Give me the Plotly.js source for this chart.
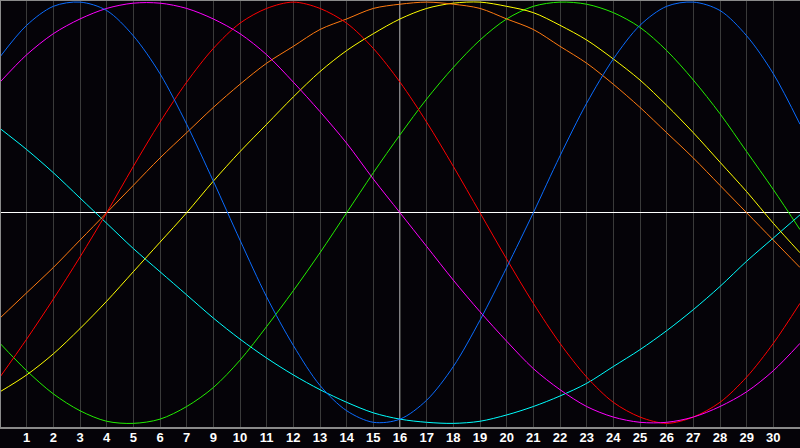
<!DOCTYPE html>
<html>
<head>
<meta charset="utf-8">
<script src="https://cdn.plot.ly/plotly-3.0.1.min.js"></script>
<style>
  html, body { margin: 0; padding: 0; background: #050308; }
  #chart { width: 800px; height: 448px; }
</style>
</head>
<body>
<div id="chart"></div>
<script>
// Biorhythm-style chart: seven cycles over 30 days.

const days = [0, 1, 2, 3, 4, 5, 6, 7, 8, 9, 10, 11, 12, 13, 14, 15,
  16, 17, 18, 19, 20, 21, 22, 23, 24, 25, 26, 27, 28, 29, 30];

const tickPos = [1, 2, 3, 4, 5, 6, 7, 8, 9, 10, 11, 12, 13, 14, 15,
  16, 17, 18, 19, 20, 21, 22, 23, 24, 25, 26, 27, 28, 29];
const tickLabels = ["1", "2", "3", "4", "5", "6", "7", "9", "10", "11", "12", "13", "14", "15", "16",
  "17", "18", "19", "20", "21", "22", "23", "24", "25", "26", "27", "28", "29", "30"];

const blue = [0.74, 0.89, 0.98, 1.0, 0.96, 0.84, 0.66, 0.42, 0.15, -0.13, -0.40, -0.63, -0.82, -0.94, -0.995,
  -0.98, -0.89, -0.73, -0.51, -0.26, 0.0, 0.27, 0.52, 0.73, 0.89, 0.98, 1.0, 0.96, 0.84, 0.66, 0.42];
const magenta = [0.62, 0.75, 0.85, 0.92, 0.97, 0.995, 0.995, 0.97, 0.92, 0.85, 0.75, 0.62, 0.48, 0.33, 0.16,
  0.0, -0.16, -0.32, -0.47, -0.61, -0.74, -0.84, -0.92, -0.97, -0.995, -0.995, -0.97, -0.92, -0.85, -0.75, -0.62];
const red = [-0.78, -0.60, -0.41, -0.21, 0.0, 0.22, 0.43, 0.62, 0.78, 0.90, 0.97, 1.0, 0.97, 0.90, 0.78,
  0.62, 0.43, 0.22, 0.0, -0.22, -0.43, -0.62, -0.78, -0.90, -0.97, -1.0, -0.97, -0.90, -0.78, -0.62, -0.43];
const orange = [-0.50, -0.38, -0.26, -0.13, 0.0, 0.13, 0.26, 0.38, 0.50, 0.61, 0.71, 0.79, 0.87, 0.92, 0.97,
  0.99, 1.0, 0.99, 0.97, 0.92, 0.87, 0.79, 0.71, 0.61, 0.50, 0.38, 0.26, 0.13, 0.0, -0.13, -0.26];
const yellow = [-0.85, -0.77, -0.67, -0.55, -0.42, -0.28, -0.14, 0.0, 0.15, 0.29, 0.42, 0.55, 0.67, 0.77, 0.85,
  0.92, 0.97, 0.995, 1.0, 0.98, 0.95, 0.89, 0.82, 0.73, 0.63, 0.51, 0.38, 0.24, 0.10, -0.05, -0.19];
const green = [-0.62, -0.75, -0.86, -0.94, -0.99, -1.0, -0.98, -0.92, -0.83, -0.70, -0.54, -0.37, -0.19, 0.0, 0.19,
  0.37, 0.54, 0.69, 0.82, 0.92, 0.98, 1.0, 0.99, 0.95, 0.88, 0.77, 0.63, 0.47, 0.29, 0.11, -0.08];
const cyan = [0.40, 0.30, 0.19, 0.07, -0.05, -0.17, -0.28, -0.39, -0.50, -0.60, -0.69, -0.77, -0.84, -0.90, -0.95,
  -0.98, -0.995, -1.0, -0.99, -0.96, -0.92, -0.87, -0.81, -0.73, -0.65, -0.56, -0.46, -0.35, -0.23, -0.12, -0.01];

const BG = "#050308";
const FRAME = "#8a8a8a";

const series = [
  [cyan, "#00ffff"],
  [green, "#22ee00"],
  [yellow, "#ffff00"],
  [orange, "#ff7a10"],
  [red, "#ff0000"],
  [magenta, "#ff00ff"],
  [blue, "#0a6cff"],
];

const traces = series.map(([y, color]) => ({
  x: days,
  y,
  type: "scatter",
  mode: "lines",
  line: { color, width: 1, shape: "spline", smoothing: 0.9 },
  hoverinfo: "skip",
  showlegend: false,
}));

const layout = {
  width: 800,
  height: 448,
  paper_bgcolor: BG,
  plot_bgcolor: BG,
  margin: { l: 0, r: 0, t: 0, b: 20 },
  xaxis: {
    range: [0, 30],
    tickvals: tickPos,
    ticktext: tickLabels,
    showgrid: true,
    gridcolor: "#3a3a3a",
    gridwidth: 1,
    zeroline: false,
    showline: false,
    ticks: "",
    tickfont: { family: "Liberation Sans", size: 13, color: "#ffffff", weight: "bold" },
    fixedrange: true,
  },
  yaxis: {
    range: [-1.022, 1.01],
    showgrid: false,
    showticklabels: false,
    zeroline: true,
    zerolinecolor: "#ffffff",
    zerolinewidth: 1,
    fixedrange: true,
  },
  shapes: [
    // white centre day line
    { type: "line", xref: "x", yref: "paper", x0: 15, x1: 15, y0: 0, y1: 1,
      line: { color: "#ffffff", width: 1 }, layer: "below" },
    // grey frame: left, top, bottom
    { type: "line", xref: "paper", yref: "paper", x0: 0, x1: 0, y0: 0, y1: 1, line: { color: FRAME, width: 2 } },
    { type: "line", xref: "paper", yref: "paper", x0: 0, x1: 1, y0: 1, y1: 1, line: { color: FRAME, width: 2 } },
    { type: "line", xref: "paper", yref: "paper", x0: 0, x1: 1, y0: 0, y1: 0, line: { color: FRAME, width: 2 } },
  ],
  showlegend: false,
};

Plotly.newPlot("chart", traces, layout, { displayModeBar: false, staticPlot: true });
</script>
</body>
</html>
